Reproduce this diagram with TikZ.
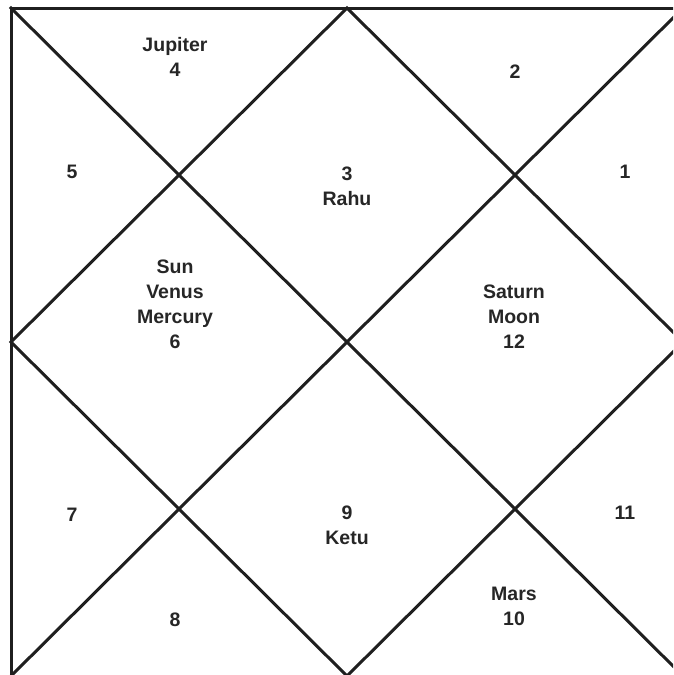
\documentclass[tikz,border=0pt]{standalone}
\usepackage{fontspec}
\setmainfont{Liberation Sans}
\begin{document}
\begin{tikzpicture}[x=1pt,y=-1pt,
  chartline/.style={draw=black!88, line width=3pt, line cap=rect},
  lbl/.style={font=\bfseries\fontsize{19.5}{25}\selectfont, text=black!85, align=center, inner sep=0pt}]
\useasboundingbox (0,0) rectangle (673,675);
\begin{scope}
\clip (0,0) rectangle (673,675);
\coordinate (tl) at (11,8);
\coordinate (tr) at (683,8);
\coordinate (bl) at (11,676);
\coordinate (br) at (683,676);
\coordinate (tm) at (347,8);
\coordinate (lm) at (11,342);
\coordinate (rm) at (683,342);
\coordinate (bm) at (347,676);
\fill[white] (0,0) rectangle (673,675);
\draw[chartline] (tl) rectangle (br);
\draw[chartline] (tl) -- (br);
\draw[chartline] (tr) -- (bl);
\draw[chartline] (tm) -- (lm) -- (bm) -- (rm) -- cycle;
\end{scope}
\node[lbl] (h4) at (175,57) {Jupiter\\4};
\node[lbl] (h2) at (515,72) {2};
\node[lbl] (h5) at (72,172) {5};
\node[lbl] (h1) at (625,172) {1};
\node[lbl] (h3) at (347,186) {3\\Rahu};
\node[lbl] (h6) at (175,304) {Sun\\Venus\\Mercury\\6};
\node[lbl] (h12) at (514,317) {Saturn\\Moon\\12};
\node[lbl] (h7) at (72,515) {7};
\node[lbl] (h9) at (347,525) {9\\Ketu};
\node[lbl] (h11) at (625,513) {11};
\node[lbl] (h8) at (175,620) {8};
\node[lbl] (h10) at (514,606) {Mars\\10};
\end{tikzpicture}
\end{document}
